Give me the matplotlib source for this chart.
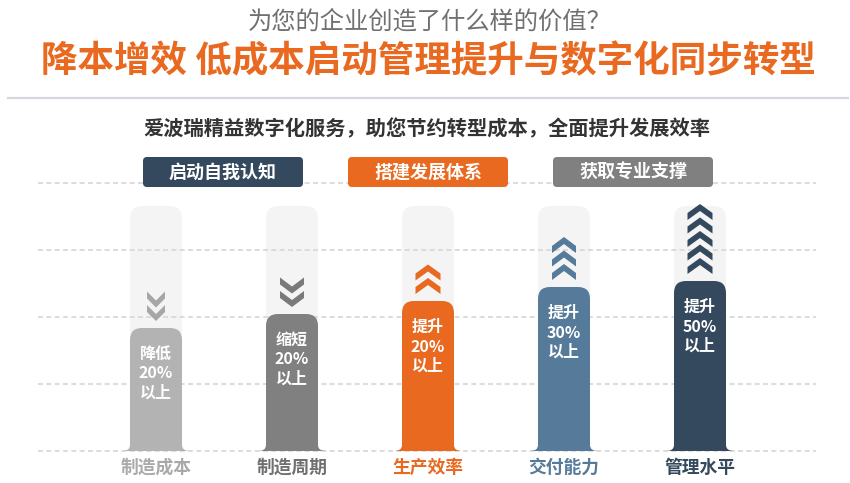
import numpy as np
import matplotlib.pyplot as plt
from matplotlib.path import Path
from matplotlib.patches import PathPatch, FancyBboxPatch, Polygon

plt.rcParams['font.family'] = ['Noto Sans CJK SC', 'DejaVu Sans']

# ---- data ----
categories = ['制造成本', '制造周期', '生产效率', '交付能力', '管理水平']
actions = ['降低', '缩短', '提升', '提升', '提升']
percents = [20, 20, 20, 30, 50]
bar_levels = [123, 137, 150, 164, 170]      # bar height above the baseline
chevron_counts = [2, 2, 2, 3, 5]
directions = ['down', 'down', 'up', 'up', 'up']
steps = ['启动自我认知', '搭建发展体系', '获取专业支撑']

subtitle = '为您的企业创造了什么样的价值？'
title = '降本增效 低成本启动管理提升与数字化同步转型'
tagline = '爱波瑞精益数字化服务，助您节约转型成本，全面提升发展效率'

# ---- styles ----
NAVY = '#34495e'
ORANGE = '#e8691f'
GRAY = '#808080'
bar_colors = ['#b3b3b3', '#808080', ORANGE, '#567a99', NAVY]
chev_colors = ['#a6a6a6', '#7a7a7a', ORANGE, '#567a99', NAVY]
label_colors = ['#a9a9a9', '#6f6f6f', ORANGE, '#567a99', NAVY]
step_colors = [NAVY, ORANGE, GRAY]
chevron_widths = [18, 24, 25, 24, 25]

x0, dx = 156, 136          # first bar centre, spacing
baseline = 451
tube_top = 206
bar_w = 52


def column_path(cx, top, bottom, w, r, fw=0, fh=0):
    l, rt = cx - w / 2, cx + w / 2
    verts = [(l - fw, bottom), (l, bottom), (l, bottom - fh),
             (l, top + r), (l, top), (l + r, top),
             (rt - r, top), (rt, top), (rt, top + r),
             (rt, bottom - fh), (rt, bottom), (rt + fw, bottom),
             (l - fw, bottom)]
    codes = [Path.MOVETO, Path.CURVE3, Path.CURVE3,
             Path.LINETO, Path.CURVE3, Path.CURVE3,
             Path.LINETO, Path.CURVE3, Path.CURVE3,
             Path.LINETO, Path.CURVE3, Path.CURVE3,
             Path.CLOSEPOLY]
    return Path(verts, codes)


def chevron(cx, ytip, w, up=True, h=16, t=7):
    s = 1 if up else -1
    pts = [(cx, ytip), (cx + w / 2, ytip + s * (h - t)), (cx + w / 2, ytip + s * h),
           (cx, ytip + s * t), (cx - w / 2, ytip + s * h), (cx - w / 2, ytip + s * (h - t))]
    return pts


fig = plt.figure(figsize=(8.5, 4.83), dpi=100)
ax = fig.add_axes([0, 0, 1, 1])
ax.set_xlim(0, 850)
ax.set_ylim(483, 0)
ax.axis('off')

# headings
ax.text(430, 22, subtitle, ha='center', va='center', fontsize=17.5, color='#707070')
ax.text(428, 62, title, ha='center', va='center', fontsize=26.3, color=ORANGE, fontweight='bold')
ax.plot([8, 848], [98, 98], color='#d3d8df', lw=1.6)
ax.text(427, 129, tagline, ha='center', va='center', fontsize=14.6, color='#333333', fontweight='bold')

# dashed guide lines
for gy in [183, 250, 317, 384, 451]:
    ax.plot([38, 816], [gy, gy], color='#d6d6d6', lw=1.2, ls=(0, (3, 2)), zorder=1)

# step boxes
for i, (s, c) in enumerate(zip(steps, step_colors)):
    bx = 143 + i * 205
    ax.add_patch(FancyBboxPatch((bx, 157), 160, 30, boxstyle='round,pad=0,rounding_size=4',
                                fc=c, ec='none', zorder=3))
    ax.text(bx + 80, 172.5, s, ha='center', va='center', fontsize=13, color='white',
            fontweight='bold', zorder=4)

# columns
for i, cat in enumerate(categories):
    cx = x0 + i * dx
    ax.add_patch(PathPatch(column_path(cx, tube_top, baseline, bar_w, 12),
                           fc='#f4f4f4', ec='none', zorder=0))
    top = baseline - bar_levels[i]
    ax.add_patch(PathPatch(column_path(cx, top, baseline, bar_w, 12, fw=8, fh=6),
                           fc=bar_colors[i], ec='none', zorder=2))
    up = directions[i] == 'up'
    n = chevron_counts[i]
    step = 13.5
    for k in range(n):
        if up:
            ytip = top - 7 - 16 - k * step
        else:
            ytip = top - 7 - k * step
        ax.add_patch(Polygon(chevron(cx, ytip, chevron_widths[i], up), closed=True,
                             fc=chev_colors[i], ec='none', zorder=2))
    ty = top + 26
    for j, line in enumerate([actions[i], f'{percents[i]}%', '以上']):
        ax.text(cx, ty + j * 19.5, line, ha='center', va='center', fontsize=11.5,
                color='white', fontweight='bold', zorder=4)
    ax.text(cx, 468, cat, ha='center', va='center', fontsize=12.8,
            color=label_colors[i], fontweight='bold')

fig.savefig('out.png', dpi=100)
